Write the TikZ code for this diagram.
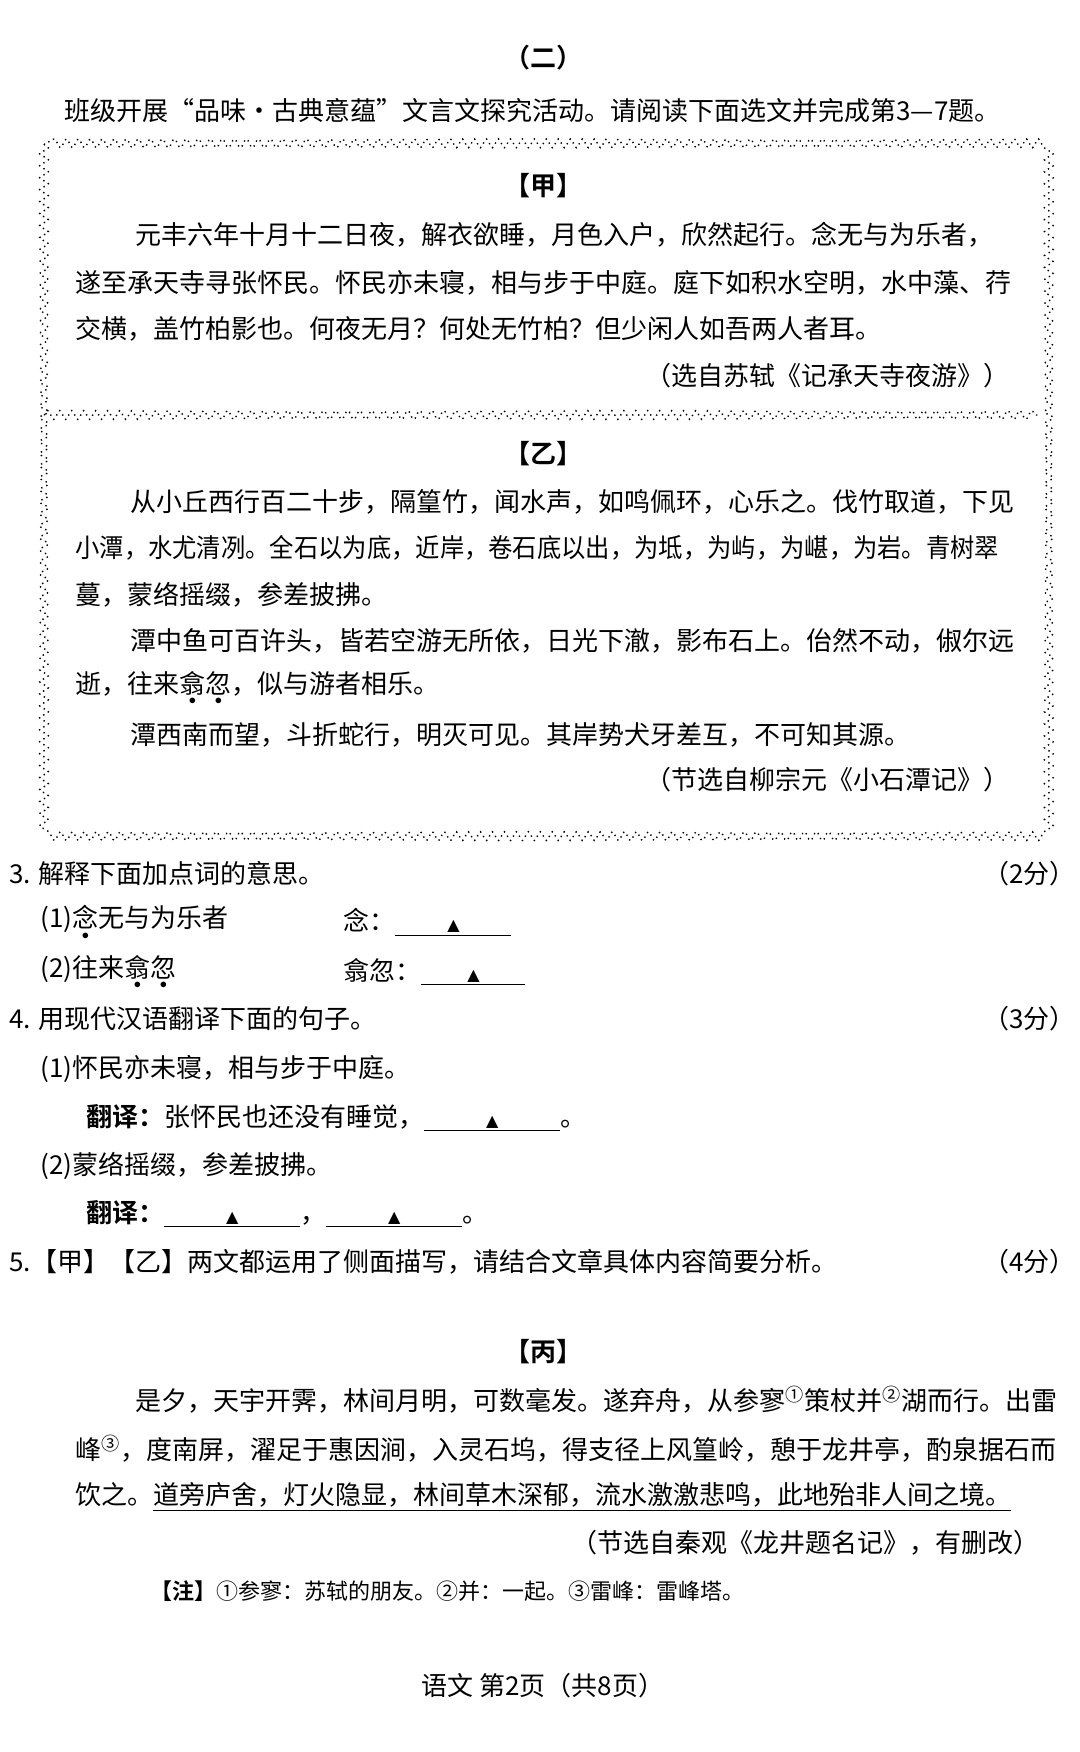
\documentclass[tikz,border=0pt]{standalone}
\usepackage{fontspec}
\setmainfont{Noto Sans CJK SC}[BoldFont={Noto Sans CJK SC Bold}]
\newfontfamily\sym{DejaVu Sans}
\usetikzlibrary{decorations.pathmorphing}
\newcommand\zd[1]{\ooalign{#1\cr\hidewidth\raisebox{-0.45em}{\scalebox{0.6}{$\bullet$}}\hidewidth\cr}}
\newcommand\kong[1]{\underline{\makebox[#1]{\sym\footnotesize ▲}}}
\tikzset{
	txt/.style={anchor=west, inner sep=0pt, font=\fontsize{13pt}{15pt}\selectfont},
	src/.style={anchor=east, inner sep=0pt, font=\fontsize{13pt}{15pt}\selectfont},
	wave/.style={decorate, decoration={snake, amplitude=2.2, segment length=6}, line width=0.7pt, dotted}
}
\begin{document}
\begin{tikzpicture}[x=0.5pt, y=-0.5pt]
	\useasboundingbox[fill=white] (0,0) rectangle (1080,1752);
	% title and intro
	\node[txt, anchor=center] (T) at (543,58) {\textbf{（二）}};
	\node[txt] (I) at (64,111) {班级开展“品味·古典意蕴”文言文探究活动。请阅读下面选文并完成第3—7题。};

	% frame
	\draw[wave] (44,144) rectangle (1041,829);
	\draw[wave] (44,415) -- (1041,415);

	% jia
	\node[txt, anchor=center] (J) at (543,186) {\textbf{【甲】}};
	\node[txt] (J1) at (135,235) {元丰六年十月十二日夜，解衣欲睡，月色入户，欣然起行。念无与为乐者，};
	\node[txt] (J2) at (75,283) {遂至承天寺寻张怀民。怀民亦未寝，相与步于中庭。庭下如积水空明，水中藻、荇};
	\node[txt] (J3) at (75,329) {交横，盖竹柏影也。何夜无月？何处无竹柏？但少闲人如吾两人者耳。};
	\node[src] (JS) at (1010,376) {（选自苏轼《记承天寺夜游》）};

	% yi
	\node[txt, anchor=center] (Y) at (543,454) {\textbf{【乙】}};
	\node[txt] (Y1) at (130,502) {从小丘西行百二十步，隔篁竹，闻水声，如鸣佩环，心乐之。伐竹取道，下见};
	\node[txt] (Y2) at (75,548) {\scalebox{0.935}[1]{小潭，水尤清冽。全石以为底，近岸，卷石底以出，为坻，为屿，为嵁，为岩。青树翠}};
	\node[txt] (Y3) at (75,595) {蔓，蒙络摇缀，参差披拂。};
	\node[txt] (Y4) at (130,641) {潭中鱼可百许头，皆若空游无所依，日光下澈，影布石上。佁然不动，俶尔远};
	\node[txt] (Y5) at (75,688) {逝，往来\zd{翕}\zd{忽}，似与游者相乐。};
	\node[txt] (Y6) at (130,735) {潭西南而望，斗折蛇行，明灭可见。其岸势犬牙差互，不可知其源。};
	\node[src] (YS) at (1010,780) {（节选自柳宗元《小石潭记》）};

	% questions
	\node[txt] (Q3) at (9,874) {3. 解释下面加点词的意思。};
	\node[src] (Q3f) at (1076,874) {（2分）};
	\node[txt] (Q31) at (40,922) {(1)\zd{念}无与为乐者};
	\node[txt] (Q31a) at (343,922) {念：\kong{58pt}};
	\node[txt] (Q32) at (40,972) {(2)往来\zd{翕}\zd{忽}};
	\node[txt] (Q32a) at (343,972) {翕忽：\kong{52pt}};
	\node[txt] (Q4) at (9,1019) {4. 用现代汉语翻译下面的句子。};
	\node[src] (Q4f) at (1076,1019) {（3分）};
	\node[txt] (Q41) at (40,1069) {(1)怀民亦未寝，相与步于中庭。};
	\node[txt] (Q41a) at (86,1118) {\textbf{翻译：}张怀民也还没有睡觉，\kong{68pt}。};
	\node[txt] (Q42) at (40,1166) {(2)蒙络摇缀，参差披拂。};
	\node[txt] (Q42a) at (86,1214) {\textbf{翻译：}\kong{68pt}，\kong{68pt}。};
	\node[txt] (Q5) at (9,1262) {5.【甲】【乙】两文都运用了侧面描写，请结合文章具体内容简要分析。};
	\node[src] (Q5f) at (1076,1262) {（4分）};

	% bing
	\node[txt, anchor=center] (B) at (543,1352) {\textbf{【丙】}};
	\node[txt] (B1) at (135,1400) {是夕，天宇开霁，林间月明，可数毫发。遂弃舟，从参寥\textsuperscript{①}策杖并\textsuperscript{②}湖而行。出雷};
	\node[txt] (B2) at (75,1449) {峰\textsuperscript{③}，度南屏，濯足于惠因涧，入灵石坞，得支径上风篁岭，憩于龙井亭，酌泉据石而};
	\node[txt] (B3) at (75,1497) {饮之。\underline{道旁庐舍，灯火隐显，林间草木深郁，流水激激悲鸣，此地殆非人间之境。}};
	\node[src] (BS) at (1040,1543) {（节选自秦观《龙井题名记》，有删改）};
	\node[txt, font=\fontsize{11pt}{13pt}\selectfont] (BN) at (150,1591) {\textbf{【注】}①参寥：苏轼的朋友。②并：一起。③雷峰：雷峰塔。};

	% footer
	\node[txt, anchor=center] (F) at (543,1686) {语文\ 第2页（共8页）};
\end{tikzpicture}
\end{document}
